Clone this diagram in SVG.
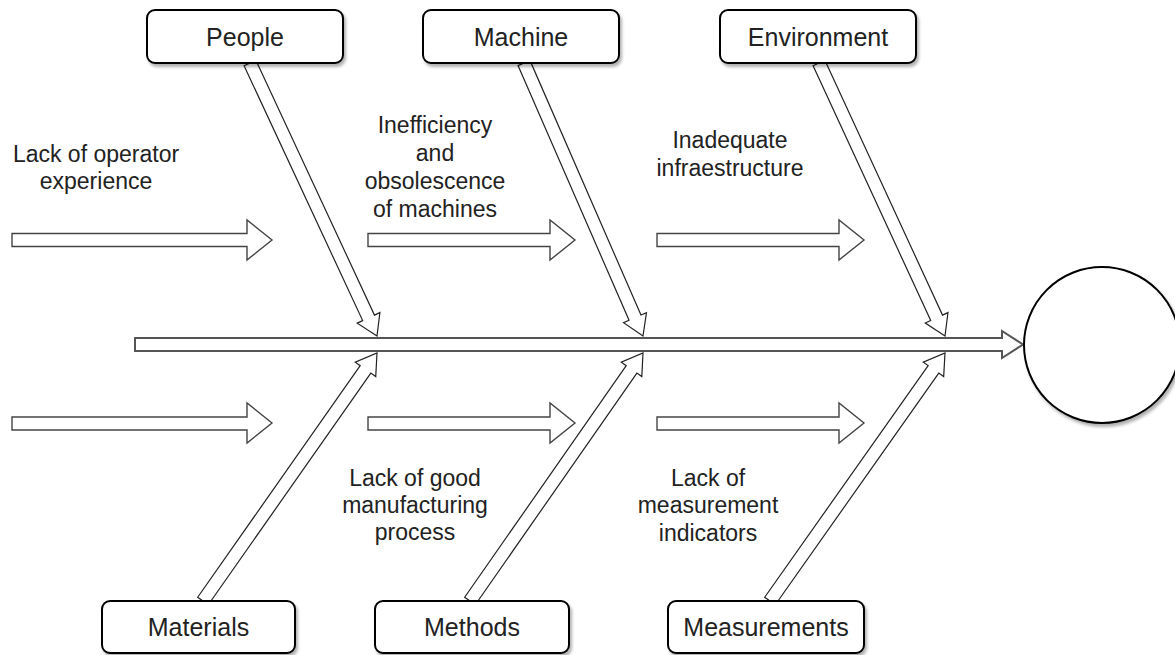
<svg xmlns="http://www.w3.org/2000/svg" width="1175" height="655" viewBox="0 0 1175 655">
<style>
.box{fill:#fff;stroke:#000;stroke-width:2}
.lbl{font-family:"Liberation Sans",Arial,sans-serif;font-size:25px;fill:#222;text-anchor:middle}
.ann{font-family:"Liberation Sans",Arial,sans-serif;font-size:23px;fill:#222;text-anchor:middle}
.arr{fill:#fff;stroke:#444;stroke-width:1.4;stroke-linejoin:miter}
.bone{fill:#fff;stroke:#222;stroke-width:1.2;stroke-linejoin:miter}
.spine{fill:#fff;stroke:#555;stroke-width:2}
</style>
<defs>
<filter id="sh" x="-10%" y="-10%" width="130%" height="140%">
<feDropShadow dx="2" dy="3" stdDeviation="1.5" flood-color="#000" flood-opacity="0.3"/>
</filter>
</defs>
<rect width="1175" height="655" fill="#fff"/>
<g id="connectors">
<polygon class="spine" points="135,338 1002,338 1002,331 1023,344.5 1002,358 1002,351 135,351"/>
<polygon class="bone" points="244.10,65.74 362.67,320.60 357.22,323.13 377,336 379.90,312.59 374.46,315.12 255.90,60.26"/>
<polygon class="bone" points="518.04,65.60 629.05,320.27 623.55,322.67 643,336 646.47,312.68 640.97,315.07 529.96,60.40"/>
<polygon class="bone" points="813.10,65.72 930.72,320.56 925.27,323.08 945,336 947.97,312.60 942.52,315.12 824.90,60.28"/>
<polygon class="bone" points="208.32,604.73 370.83,373.10 375.74,376.55 377,353 355.28,362.19 360.19,365.64 197.68,597.27"/>
<polygon class="bone" points="475.33,604.72 636.89,373.12 641.81,376.55 643,353 621.31,362.25 626.23,365.68 464.67,597.28"/>
<polygon class="bone" points="775.31,604.75 938.78,373.09 943.68,376.55 945,353 923.26,362.13 928.16,365.59 764.69,597.25"/>
<polygon class="arr" points="12,233.5 247,233.5 247,220 272,240 247,260 247,246.5 12,246.5"/>
<polygon class="arr" points="368,233.5 550,233.5 550,220 575,240 550,260 550,246.5 368,246.5"/>
<polygon class="arr" points="657,233.5 839,233.5 839,220 864,240 839,260 839,246.5 657,246.5"/>
<polygon class="arr" points="12,417 247,417 247,403 272,423 247,443 247,430 12,430"/>
<polygon class="arr" points="368,417 550,417 550,403 575,423 550,443 550,430 368,430"/>
<polygon class="arr" points="657,417 839,417 839,403 864,423 839,443 839,430 657,430"/>
</g>
<g id="people"><rect class="box" x="147" y="10" width="196" height="53" rx="8" filter="url(#sh)"/><text class="lbl" x="245" y="45.5">People</text></g>
<g id="machine"><rect class="box" x="423" y="10" width="196" height="53" rx="8" filter="url(#sh)"/><text class="lbl" x="521" y="45.5">Machine</text></g>
<g id="environment"><rect class="box" x="720" y="10" width="196" height="53" rx="8" filter="url(#sh)"/><text class="lbl" x="818" y="45.5">Environment</text></g>
<g id="materials"><rect class="box" x="102" y="601" width="193" height="52" rx="8" filter="url(#sh)"/><text class="lbl" x="198.5" y="636">Materials</text></g>
<g id="methods"><rect class="box" x="375" y="601" width="194" height="52" rx="8" filter="url(#sh)"/><text class="lbl" x="472" y="636">Methods</text></g>
<g id="measurements"><rect class="box" x="668" y="601" width="196" height="52" rx="8" filter="url(#sh)"/><text class="lbl" x="766" y="636">Measurements</text></g>
<g id="effect"><circle cx="1102" cy="345" r="78" fill="#fff" stroke="#000" stroke-width="2" filter="url(#sh)"/></g>
<g id="cause-people"><text class="ann" x="96" y="162">Lack of operator</text><text class="ann" x="96" y="189">experience</text></g>
<g id="cause-machine"><text class="ann" x="435" y="133">Inefficiency</text><text class="ann" x="435" y="161">and</text><text class="ann" x="435" y="189">obsolescence</text><text class="ann" x="435" y="217">of machines</text></g>
<g id="cause-environment"><text class="ann" x="730" y="148">Inadequate</text><text class="ann" x="730" y="176">infraestructure</text></g>
<g id="cause-methods"><text class="ann" x="415" y="486">Lack of good</text><text class="ann" x="415" y="513">manufacturing</text><text class="ann" x="415" y="540">process</text></g>
<g id="cause-measurements"><text class="ann" x="708" y="486">Lack of</text><text class="ann" x="708" y="513">measurement</text><text class="ann" x="708" y="541">indicators</text></g>
</svg>
